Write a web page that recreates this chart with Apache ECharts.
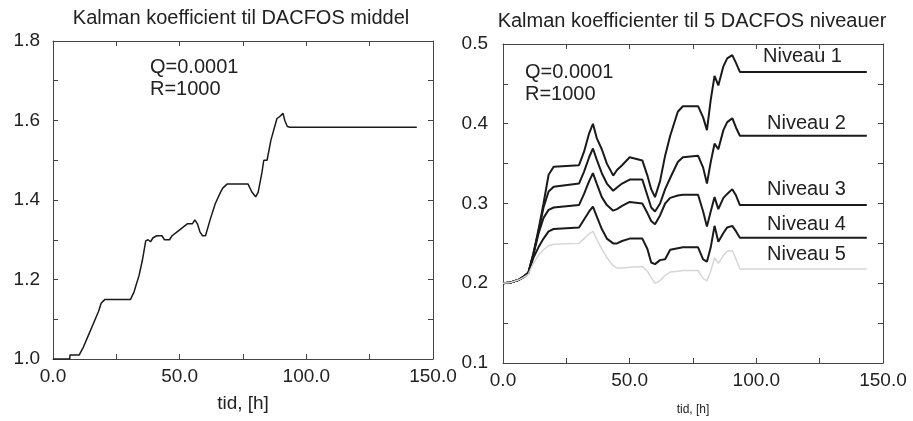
<!DOCTYPE html>
<html>
<head>
<meta charset="utf-8">
<script src="https://cdn.jsdelivr.net/npm/echarts@6/dist/echarts.min.js"></script>
<style>
  html, body { margin: 0; padding: 0; background: #fff; }
</style>
</head>
<body>
<div id="kalmanCharts" style="width: 913px; height: 421px;"></div>
<script>
// venstre figur: middel
let middelTid = [0, 6.6, 6.7, 10.3, 12, 14, 16, 18, 19, 20.5, 30.6, 32, 34, 35.3, 36.6, 37.5, 38.5, 39.5, 41, 43, 44, 46, 47, 49, 51, 53, 55, 56, 57, 58, 59, 60.2, 62, 64, 66, 67, 68.7, 77, 78.5, 80, 81, 82.5, 83.2, 84.5, 86, 88.4, 89.5, 90.8, 91.5, 92.5, 93.6, 143.6];
let middelVal = [1.0, 1.0, 1.01, 1.01, 1.03, 1.06, 1.09, 1.12, 1.14, 1.15, 1.15, 1.169, 1.211, 1.249, 1.297, 1.30, 1.295, 1.305, 1.31, 1.31, 1.30, 1.30, 1.31, 1.32, 1.33, 1.34, 1.34, 1.35, 1.34, 1.32, 1.31, 1.31, 1.35, 1.39, 1.418, 1.43, 1.44, 1.44, 1.42, 1.408, 1.42, 1.47, 1.50, 1.50, 1.55, 1.605, 1.61, 1.618, 1.60, 1.585, 1.583, 1.583];

// hoejre figur: 5 niveauer
let niveauTid = [0, 3, 6, 8, 10, 12, 14, 16, 18, 20, 30, 32, 34, 35.5, 37, 39, 41, 43.5, 45, 47, 50, 55, 57, 58.5, 60, 62, 64, 66, 69, 71, 77, 79, 80.5, 82, 83.5, 85, 87, 88.5, 90.5, 92, 93.5, 143.6];
let niveau1 = [0.200, 0.201, 0.204, 0.208, 0.213, 0.237, 0.267, 0.300, 0.336, 0.346, 0.348, 0.365, 0.388, 0.400, 0.382, 0.368, 0.350, 0.335, 0.342, 0.348, 0.358, 0.354, 0.335, 0.318, 0.308, 0.328, 0.360, 0.385, 0.415, 0.422, 0.422, 0.408, 0.392, 0.430, 0.460, 0.448, 0.472, 0.482, 0.486, 0.476, 0.465, 0.465];
let niveau2 = [0.200, 0.201, 0.204, 0.208, 0.213, 0.237, 0.265, 0.295, 0.315, 0.321, 0.325, 0.340, 0.358, 0.369, 0.355, 0.338, 0.325, 0.316, 0.320, 0.325, 0.330, 0.330, 0.310, 0.295, 0.290, 0.300, 0.318, 0.332, 0.352, 0.358, 0.360, 0.345, 0.325, 0.352, 0.375, 0.368, 0.392, 0.402, 0.407, 0.395, 0.385, 0.385];
let niveau3 = [0.200, 0.201, 0.204, 0.208, 0.213, 0.236, 0.262, 0.282, 0.292, 0.295, 0.298, 0.312, 0.328, 0.338, 0.325, 0.308, 0.298, 0.291, 0.293, 0.297, 0.302, 0.300, 0.288, 0.278, 0.274, 0.285, 0.300, 0.307, 0.310, 0.311, 0.311, 0.290, 0.271, 0.290, 0.308, 0.293, 0.307, 0.312, 0.318, 0.310, 0.298, 0.298];
let niveau4 = [0.200, 0.201, 0.204, 0.207, 0.212, 0.232, 0.245, 0.256, 0.265, 0.268, 0.270, 0.280, 0.290, 0.296, 0.284, 0.268, 0.256, 0.250, 0.250, 0.253, 0.256, 0.256, 0.243, 0.226, 0.224, 0.229, 0.230, 0.242, 0.244, 0.245, 0.245, 0.230, 0.227, 0.245, 0.272, 0.252, 0.263, 0.270, 0.272, 0.265, 0.257, 0.257];
let niveau5 = [0.200, 0.201, 0.204, 0.207, 0.211, 0.225, 0.235, 0.242, 0.247, 0.249, 0.250, 0.256, 0.262, 0.265, 0.255, 0.243, 0.232, 0.222, 0.219, 0.219, 0.220, 0.221, 0.215, 0.207, 0.200, 0.203, 0.210, 0.214, 0.215, 0.216, 0.216, 0.206, 0.203, 0.215, 0.232, 0.225, 0.235, 0.240, 0.241, 0.230, 0.218, 0.218];

let niveauNavne = ["Niveau 1", "Niveau 2", "Niveau 3", "Niveau 4", "Niveau 5"];

function pairs(xs, ys) {
  let out = [];
  for (let i = 0; i < xs.length; i++) {
    out.push([xs[i], ys[i]]);
  }
  return out;
}

let font = "Liberation Sans";
let frameColor = "#444";

function xAxisFor(grid, pos, showLabels, nameSize, nameGap) {
  return {
    type: "value",
    gridIndex: grid,
    position: pos,
    min: 0,
    max: 150,
    interval: 50,
    name: showLabels ? "tid, [h]" : "",
    nameLocation: "middle",
    nameGap: nameGap,
    nameTextStyle: { fontFamily: font, fontSize: nameSize, color: "#222" },
    axisLine: { show: true, onZero: false, lineStyle: { color: frameColor, width: 1 } },
    axisTick: { show: true, inside: true, length: 5, lineStyle: { color: frameColor } },
    minorTick: { show: true, splitNumber: 2, length: 5, lineStyle: { color: frameColor } },
    axisLabel: {
      show: showLabels,
      margin: 8,
      fontFamily: font,
      fontSize: 19,
      color: "#222",
      formatter: function (v) { return v.toFixed(1); }
    },
    splitLine: { show: false }
  };
}

function yAxisFor(grid, pos, showLabels, min, max, step, margin) {
  return {
    type: "value",
    gridIndex: grid,
    position: pos,
    min: min,
    max: max,
    interval: step,
    axisLine: { show: true, onZero: false, lineStyle: { color: frameColor, width: 1 } },
    axisTick: { show: true, inside: true, length: 5, lineStyle: { color: frameColor } },
    minorTick: { show: true, splitNumber: 2, length: 5, lineStyle: { color: frameColor } },
    axisLabel: {
      show: showLabels,
      margin: margin,
      fontFamily: font,
      fontSize: 19,
      color: "#222",
      formatter: function (v) { return v.toFixed(1); }
    },
    splitLine: { show: false }
  };
}

function note(text, x, y, size) {
  return {
    type: "text",
    x: x,
    y: y,
    style: {
      text: text,
      fontFamily: font,
      fontSize: size,
      fill: "#222",
      verticalAlign: "middle"
    }
  };
}

let niveauY = [56, 123, 189, 224, 254];
let niveauX = [763, 767, 767, 767, 767];
let graphics = [
  note("Q=0.0001", 150, 67, 20),
  note("R=1000", 150, 89, 20),
  note("Q=0.0001", 525, 72, 20),
  note("R=1000", 525, 94, 20)
];
for (let i = 0; i < niveauNavne.length; i++) {
  graphics.push(note(niveauNavne[i], niveauX[i], niveauY[i], 20));
}

let niveauData = [niveau1, niveau2, niveau3, niveau4, niveau5];
let niveauSeries = [];
for (let i = 0; i < niveauData.length; i++) {
  let faint = i === 4;
  niveauSeries.push({
    name: niveauNavne[i],
    type: "line",
    xAxisIndex: 2,
    yAxisIndex: 2,
    showSymbol: false,
    data: pairs(niveauTid, niveauData[i]),
    lineStyle: { color: faint ? "#d6d6d6" : "#1a1a1a", width: faint ? 1.5 : 2 }
  });
}

let chartsOptions = {
  animation: false,
  backgroundColor: "#fff",
  title: [
    {
      text: "Kalman koefficient til DACFOS middel",
      left: 241,
      top: 8,
      textAlign: "center",
      padding: 0,
      textStyle: { fontFamily: font, fontSize: 20, fontWeight: "normal", color: "#222" }
    },
    {
      text: "Kalman koefficienter til 5 DACFOS niveauer",
      left: 692,
      top: 11,
      textAlign: "center",
      padding: 0,
      textStyle: { fontFamily: font, fontSize: 20, fontWeight: "normal", color: "#222" }
    }
  ],
  grid: [
    { left: 53, right: 480, top: 41, bottom: 62 },
    { left: 503, right: 30, top: 44, bottom: 58 }
  ],
  xAxis: [
    xAxisFor(0, "bottom", true, 19, 35),
    xAxisFor(0, "top", false, 19, 35),
    xAxisFor(1, "bottom", true, 12, 41),
    xAxisFor(1, "top", false, 12, 41)
  ],
  yAxis: [
    yAxisFor(0, "left", true, 1.0, 1.8, 0.2, 13),
    yAxisFor(0, "right", false, 1.0, 1.8, 0.2, 13),
    yAxisFor(1, "left", true, 0.1, 0.5, 0.1, 15),
    yAxisFor(1, "right", false, 0.1, 0.5, 0.1, 15)
  ],
  graphic: graphics,
  series: [
    {
      name: "middel",
      type: "line",
      xAxisIndex: 0,
      yAxisIndex: 0,
      showSymbol: false,
      data: pairs(middelTid, middelVal),
      lineStyle: { color: "#1a1a1a", width: 1.5 }
    }
  ].concat(niveauSeries)
};

let dataCharts = echarts.init(document.getElementById("kalmanCharts"));
dataCharts.setOption(chartsOptions);
</script>
</body>
</html>
